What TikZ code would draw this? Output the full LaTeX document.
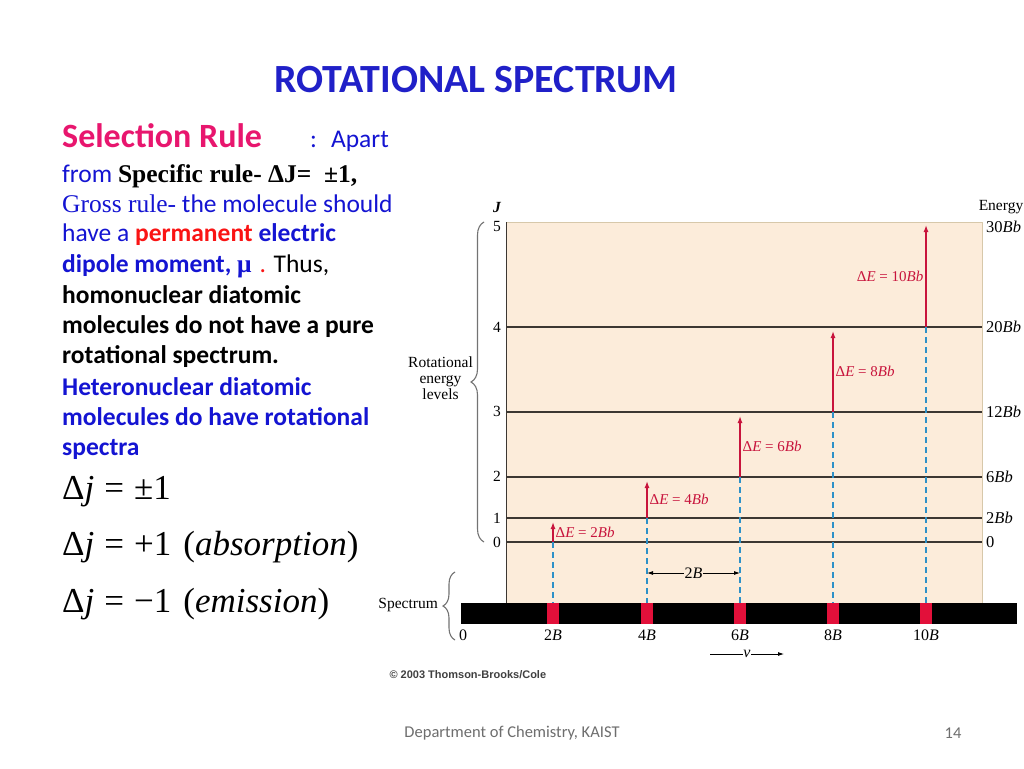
\documentclass[tikz,border=0pt]{standalone}
\usepackage{fontspec}
\setmainfont{Carlito}
\newfontfamily\timesfont{Liberation Serif}
\newfontfamily\arialfont{Liberation Sans}
\usetikzlibrary{positioning,calc,arrows.meta,decorations.pathreplacing}

\definecolor{titleblue}{RGB}{32,32,200}
\definecolor{textblue}{RGB}{20,20,210}
\definecolor{rulepink}{RGB}{232,22,110}
\definecolor{permred}{RGB}{250,20,20}
\definecolor{peach}{RGB}{252,236,218}
\definecolor{frametan}{RGB}{215,200,170}
\definecolor{levelgray}{RGB}{60,55,50}
\definecolor{transred}{RGB}{200,20,60}
\definecolor{dropblue}{RGB}{45,145,200}
\definecolor{markred}{RGB}{226,16,58}
\definecolor{footgray}{RGB}{110,110,110}
\definecolor{bracegray}{RGB}{115,115,115}

\newcommand{\setpx}[1]{\fontsize{#1}{#1}\selectfont}

\begin{document}
\begin{tikzpicture}[
    x=1pt, y=-1pt,
    txt/.style={anchor=base west, inner sep=0pt, font=\setpx{25.5}},
    diag/.style={font=\timesfont\setpx{15.5}, inner sep=1pt},
    enline/.style={draw=levelgray, line width=1.5pt},
    trans/.style={-{Latex[length=7pt,width=5pt]}, draw=transred, line width=1.3pt},
    drop/.style={draw=dropblue, line width=1.2pt, dash pattern=on 6pt off 4pt},
    specmark/.style={fill=markred, minimum width=12pt, minimum height=21pt, inner sep=0pt},
    dlabel/.style={font=\timesfont\setpx{15}, text=transred, inner sep=2pt},
    freq/.style={font=\timesfont\setpx{16}, anchor=base, inner sep=0pt},
    curly/.style={decorate, draw=bracegray, line width=1.1pt}
]
    \useasboundingbox (0,0) rectangle (1024,768);
    \fill[white] (0,0) rectangle (1024,768);

    % title and text
    \node[font=\bfseries\setpx{40}, text=titleblue] (title) at (476,80) {ROTATIONAL SPECTRUM};

    \node[txt, font=\bfseries\setpx{34}, text=rulepink] (sel) at (62,147) {Selection Rule};
    \node[txt, text=textblue] (apart) at (310,147) {:\hspace{14pt}Apart};
    \node[txt, text=textblue] (line2) at (62,182) {from {\timesfont\bfseries\color{black}Specific rule- ΔJ= \ ±1,}};
    \node[txt, text=textblue] (line3) at (62,212) {{\timesfont Gross rule-} the molecule should};
    \node[txt, text=textblue] (line4) at (62,241) {have a \textcolor{permred}{\bfseries permanent} {\bfseries electric}};
    \node[txt, text=textblue] (line5) at (62,272) {{\bfseries dipole moment, {\timesfont μ}}\hspace{8pt}\textcolor{permred}{.} \textcolor{black}{Thus,}};
    \node[txt, font=\bfseries\setpx{25.5}] (line6) at (62,303) {homonuclear diatomic};
    \node[txt, font=\bfseries\setpx{25.5}] (line7) at (62,333) {molecules do not have a pure};
    \node[txt, font=\bfseries\setpx{25.5}] (line8) at (62,363) {rotational spectrum.};
    \node[txt, font=\bfseries\setpx{25.5}, text=textblue] (line9) at (62,395) {Heteronuclear diatomic};
    \node[txt, font=\bfseries\setpx{25.5}, text=textblue] (line10) at (62,425) {molecules do have rotational};
    \node[txt, font=\bfseries\setpx{25.5}, text=textblue] (line11) at (62,455) {spectra};

    \node[txt, font=\timesfont\setpx{35}] (eq1) at (62,499) {Δ\textit{j}\hspace{10pt}=\hspace{10pt}±1};
    \node[txt, font=\timesfont\setpx{35}] (eq2) at (62,555) {Δ\textit{j}\hspace{10pt}=\hspace{10pt}+1\hspace{12pt}(\textit{absorption})};
    \node[txt, font=\timesfont\setpx{35}] (eq3) at (62,612) {Δ\textit{j}\hspace{10pt}=\hspace{10pt}−1\hspace{12pt}(\textit{emission})};

    % energy level box
    \fill[peach] (506,222) rectangle (982,603);
    \draw[frametan, line width=0.8pt] (506,222) -- (982,222) -- (982,603);
    \draw[levelgray, line width=1pt] (506,222) -- (506,603);

    \coordinate (l0) at (506,542);
    \coordinate (l1) at (506,518);
    \coordinate (l2) at (506,477);
    \coordinate (l3) at (506,412);
    \coordinate (l4) at (506,327);
    \coordinate (l5) at (506,222);

    \draw[enline] (l0) -- +(476,0);
    \draw[enline] (l1) -- +(476,0);
    \draw[enline] (l2) -- +(476,0);
    \draw[enline] (l3) -- +(476,0);
    \draw[enline] (l4) -- +(476,0);

    \node[font=\timesfont\bfseries\itshape\setpx{15.5}] (jhead) at (497,207) {J};
    \node[diag] (j5) at (497,226) {5};
    \node[diag] (j4) at (497,327) {4};
    \node[diag] (j3) at (497,411) {3};
    \node[diag] (j2) at (497,476) {2};
    \node[diag] (j1) at (497,518) {1};
    \node[diag] (j0) at (497,542) {0};

    \node[diag] (ehead) at (1001,207) {Energy};
    \node[diag, anchor=west, font=\timesfont\setpx{16.5}] (e5) at (985,227) {30\textit{Bb}};
    \node[diag, anchor=west, font=\timesfont\setpx{16.5}] (e4) at (985,327) {20\textit{Bb}};
    \node[diag, anchor=west, font=\timesfont\setpx{16.5}] (e3) at (985,412) {12\textit{Bb}};
    \node[diag, anchor=west, font=\timesfont\setpx{16.5}] (e2) at (985,477) {6\textit{Bb}};
    \node[diag, anchor=west, font=\timesfont\setpx{16.5}] (e1) at (985,518) {2\textit{Bb}};
    \node[diag, anchor=west, font=\timesfont\setpx{16.5}] (e0) at (985,542) {0};

    \draw[curly, decoration={brace, amplitude=13pt}] (484,542) -- (484,222);
    \node[diag, align=center, font=\timesfont\fontsize{15.5}{16}\selectfont, anchor=east, inner sep=0pt] (rotlbl) at (473,378) {Rotational\\energy\\levels};

    % spectrum strip
    \node[fill=black, minimum width=556pt, minimum height=21pt, inner sep=0pt] (bar) at (739,613.5) {};
    \node[specmark] (m2) at (553,613.5) {};
    \node[specmark] (m4) at (647,613.5) {};
    \node[specmark] (m6) at (740,613.5) {};
    \node[specmark] (m8) at (833,613.5) {};
    \node[specmark] (m10) at (926,613.5) {};

    \draw[curly, decoration={brace, amplitude=12pt}] (455,640) -- (455,572);
    \node[diag, anchor=east, inner sep=0pt] (speclbl) at (438,605) {Spectrum};

    \coordinate (fy) at (0,640);
    \node[freq] (f0) at (463,640) {0};
    \node[freq] (f2) at (m2 |- fy) {2\textit{B}};
    \node[freq] (f4) at (m4 |- fy) {4\textit{B}};
    \node[freq] (f6) at (m6 |- fy) {6\textit{B}};
    \node[freq] (f8) at (m8 |- fy) {8\textit{B}};
    \node[freq] (f10) at (m10 |- fy) {10\textit{B}};

    % dashed drops
    \draw[drop] (m2 |- l0) -- (m2.north);
    \draw[drop] (m4 |- l1) -- (m4.north);
    \draw[drop] (m6 |- l2) -- (m6.north);
    \draw[drop] (m8 |- l3) -- (m8.north);
    \draw[drop] (m10 |- l4) -- (m10.north);

    % transitions
    \draw[trans] (m2 |- l0) -- ($(m2 |- l1)+(0,4)$) node[midway, right, dlabel] {Δ\textit{E} = 2\textit{Bb}};
    \draw[trans] (m4 |- l1) -- ($(m4 |- l2)+(0,4)$) node[midway, right, dlabel] {Δ\textit{E} = 4\textit{Bb}};
    \draw[trans] (m6 |- l2) -- ($(m6 |- l3)+(0,4)$) node[midway, right, dlabel] {Δ\textit{E} = 6\textit{Bb}};
    \draw[trans] (m8 |- l3) -- ($(m8 |- l4)+(0,4)$) node[midway, right, dlabel] {Δ\textit{E} = 8\textit{Bb}};
    \draw[trans] (m10 |- l4) -- ($(m10 |- l5)+(0,3)$) node[midway, left, dlabel] {Δ\textit{E} = 10\textit{Bb}};

    % spacing marker and frequency axis
    \coordinate (gapy) at (0,573);
    \draw[{Latex[length=6pt,width=4pt]}-{Latex[length=6pt,width=4pt]}, line width=0.8pt] (m4 |- gapy) -- (m6 |- gapy) node[midway, diag, fill=peach, font=\timesfont\setpx{16}] {2\textit{B}};

    \coordinate (nu0) at (710,654);
    \coordinate (nu1) at (784,654);
    \draw[-{Latex[length=6pt,width=4pt]}, line width=0.8pt] (nu0) -- (nu1) node[midway, fill=white, inner sep=0.5pt, font=\timesfont\setpx{16}] (nulbl) {\textit{ν}};

    % credit and footer
    \node[anchor=west, font=\arialfont\bfseries\setpx{11}, text=black!75] (credit) at (386,675) {© 2003 Thomson-Brooks/Cole};
    \node[font=\setpx{16.5}, text=footgray] (dept) at (512,733) {Department of Chemistry, KAIST};
    \node[font=\setpx{16.5}, text=footgray] (page) at (953,733) {14};
\end{tikzpicture}
\end{document}
